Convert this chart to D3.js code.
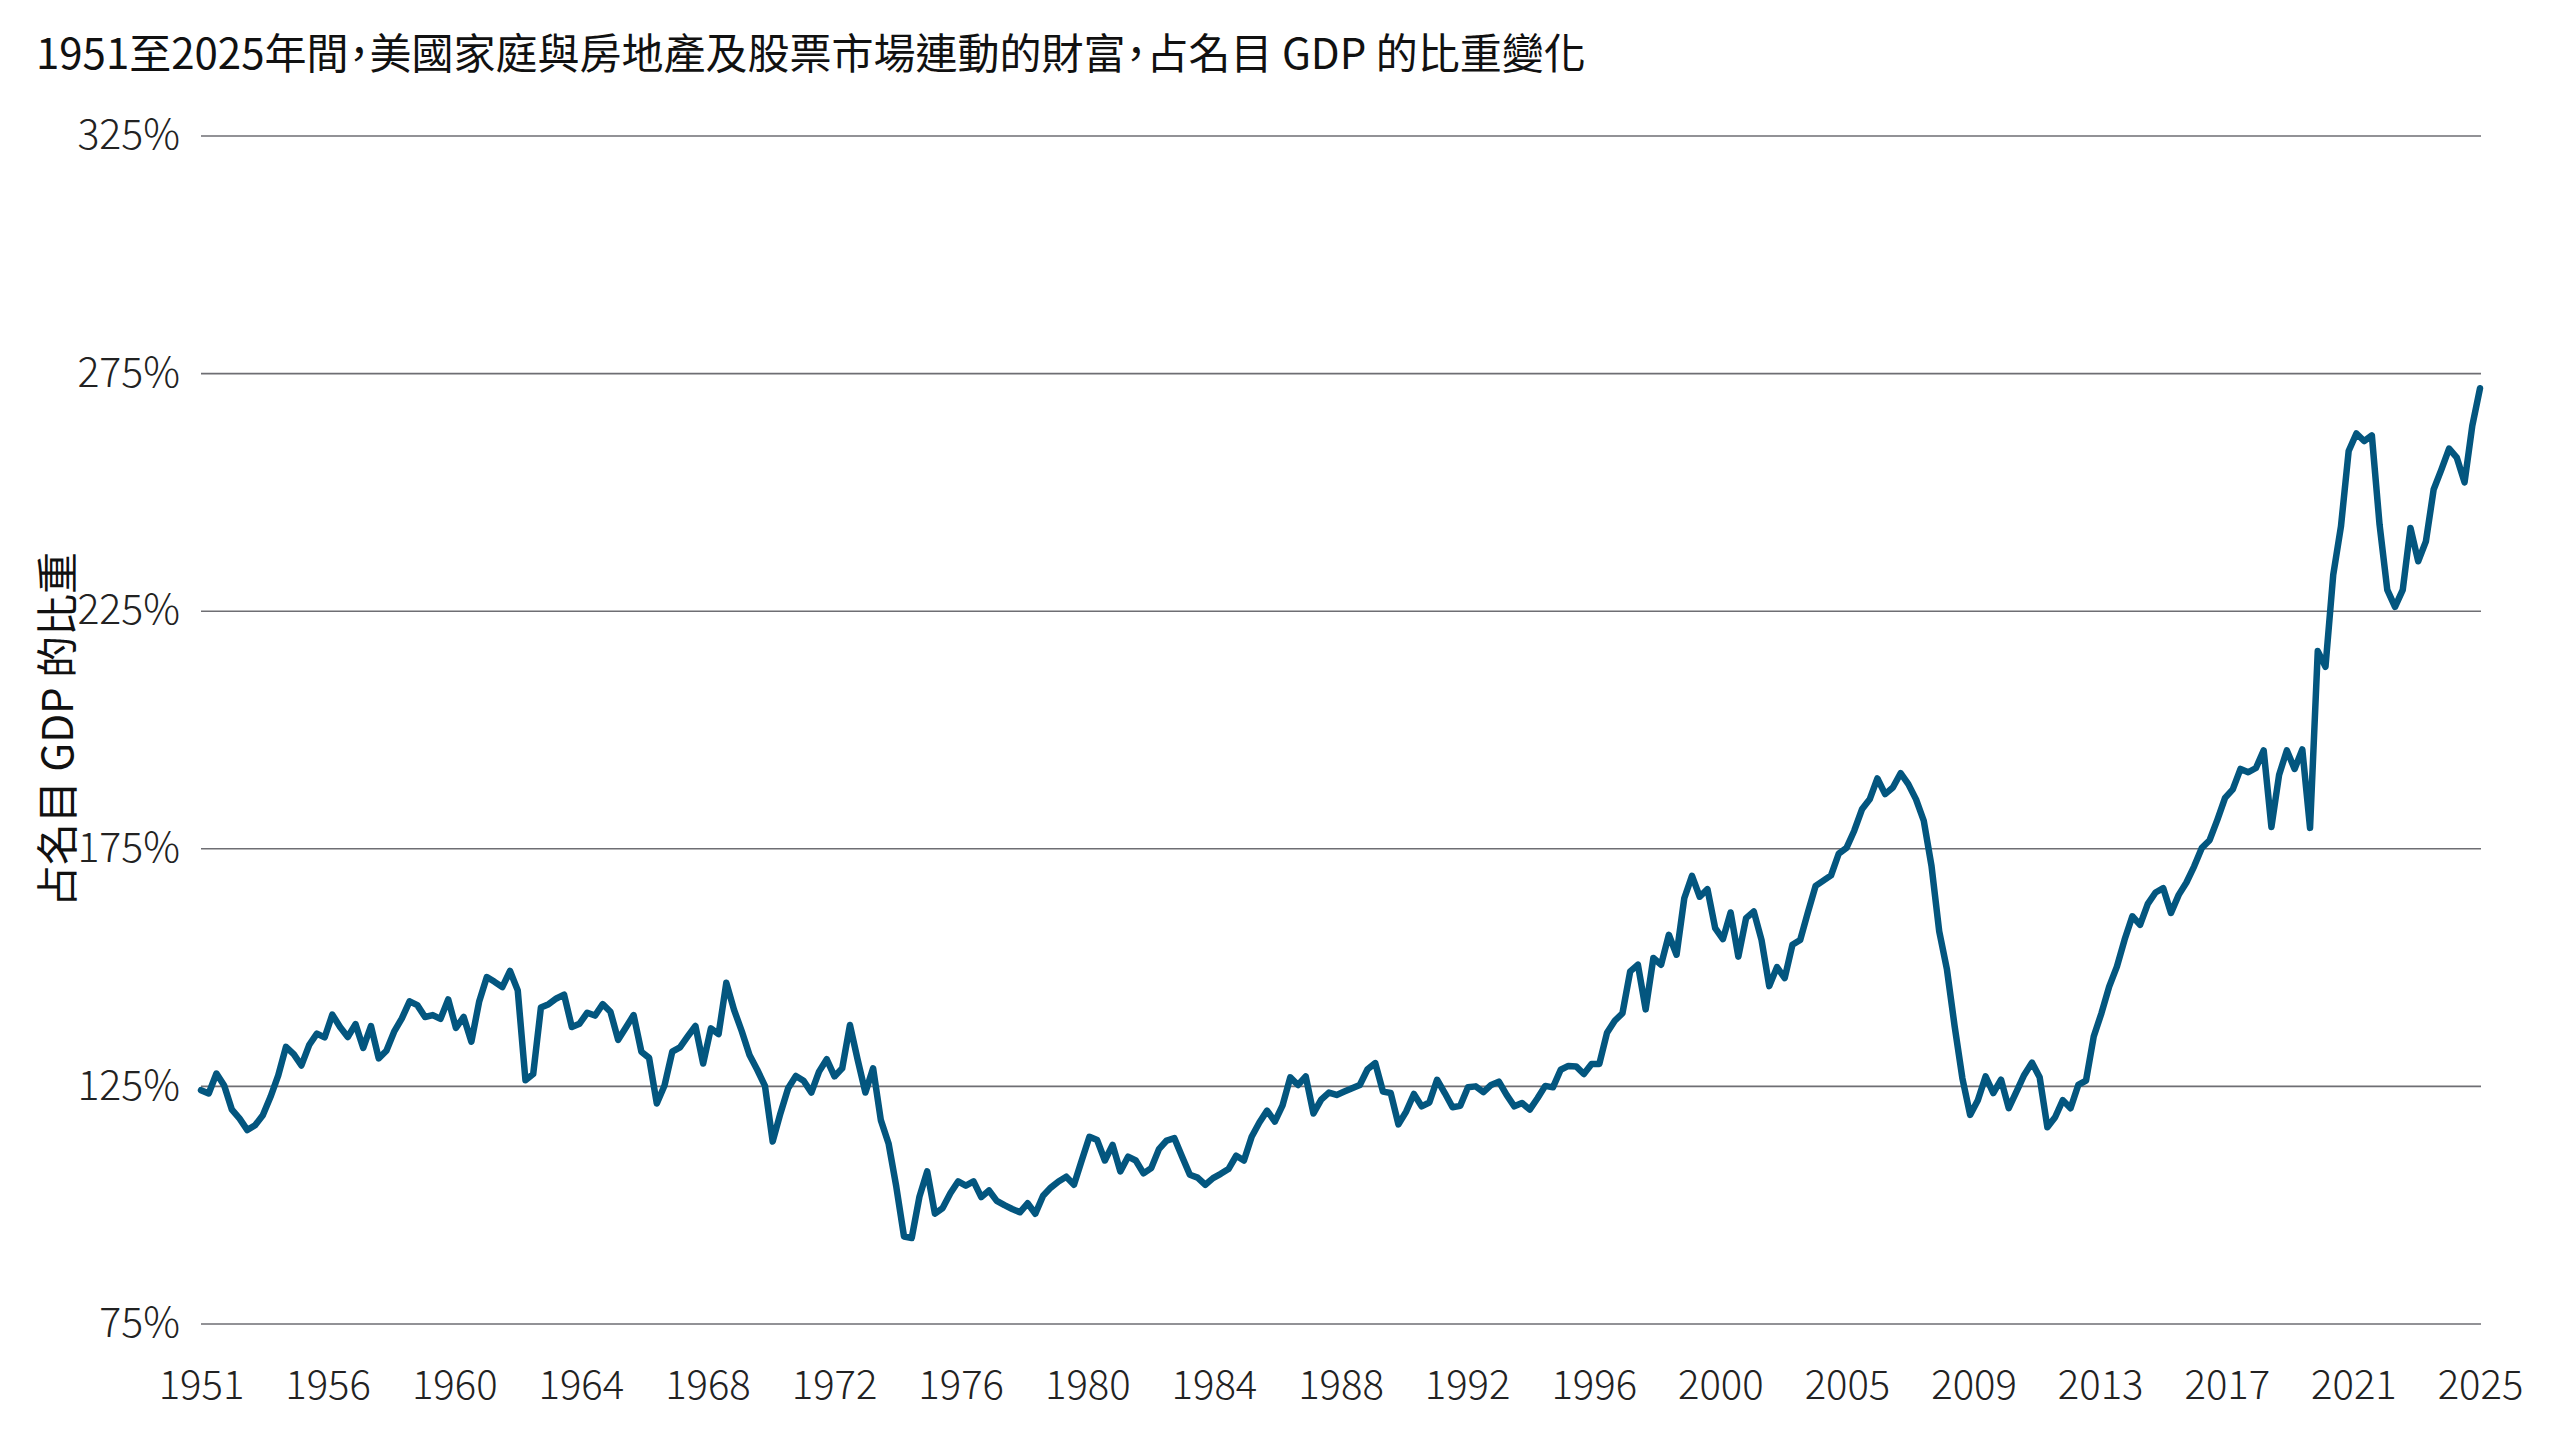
<!DOCTYPE html>
<html>
<head>
<meta charset="utf-8">
<script src="https://cdn.jsdelivr.net/npm/d3@7"></script>
<style>
  html, body { margin: 0; padding: 0; background: #ffffff; }
  svg { display: block; }
  text { font-family: "Noto Sans CJK TC", "Noto Sans", sans-serif; }
</style>
</head>
<body>
<svg id="chart" width="2560" height="1440"></svg>
<script>
// ---------------- DATA ----------------
const titleText = "1951至2025年間，美國家庭與房地產及股票市場連動的財富，占名目 GDP 的比重變化";
const yAxisTitle = "占名目 GDP 的比重";
const startYear = 1951;
// quarterly series: household real-estate & equity linked wealth as % of nominal GDP
const values = [
  124.1,123.4,127.6,125.1,120.0,118.1,115.7,116.7,118.8,122.7,
  127.2,133.2,131.7,129.3,133.6,136.0,135.2,140.0,137.4,135.3,
  138.0,133.0,137.6,130.8,132.4,136.4,139.2,142.8,142.0,139.5,
  139.9,139.1,143.2,137.2,139.5,134.3,142.7,147.9,146.9,145.8,
  149.2,145.1,126.2,127.5,141.5,142.2,143.4,144.2,137.4,138.1,
  140.4,139.8,142.2,140.6,134.7,137.3,139.9,132.2,130.9,121.3,
  125.1,132.2,133.1,135.4,137.6,129.7,137.1,135.9,146.7,141.0,
  136.5,131.5,128.4,125.0,113.3,119.2,124.5,127.1,126.1,123.6,
  128.0,130.6,127.0,128.7,137.8,130.5,123.6,128.7,117.8,112.9,
  103.8,93.3,93.0,101.7,107.0,98.1,99.3,102.4,104.9,104.0,
  104.9,101.6,103.0,100.8,99.9,99.1,98.4,100.3,98.1,101.9,
  103.6,104.9,105.9,104.2,109.3,114.3,113.6,109.3,112.6,107.0,
  110.1,109.3,106.6,107.7,111.7,113.5,114.0,110.1,106.3,105.7,
  104.2,105.6,106.5,107.5,110.3,109.3,114.3,117.3,119.8,117.5,
  120.9,126.8,125.2,127.0,119.2,122.1,123.6,123.1,123.8,124.5,
  125.2,128.5,129.8,123.8,123.5,116.9,119.6,123.3,120.7,121.5,
  126.3,123.5,120.5,120.8,124.7,124.9,123.7,125.2,125.9,123.1,
  120.7,121.4,120.0,122.4,125.0,124.7,128.4,129.2,129.1,127.5,
  129.6,129.6,136.2,138.7,140.3,149.1,150.5,141.1,151.9,150.5,
  156.8,152.6,164.5,169.2,164.8,166.4,158.2,155.9,161.5,152.2,
  160.3,161.7,155.7,146.0,150.0,147.7,154.7,155.7,161.5,167.1,
  168.2,169.3,173.9,175.1,178.7,183.2,185.3,189.7,186.4,187.8,
  190.8,188.5,185.3,180.8,171.3,157.5,149.5,137.5,126.6,118.9,
  122.0,127.0,123.5,126.3,120.3,123.8,127.3,129.9,126.8,116.3,
  118.4,122.0,120.3,125.2,126.1,135.4,140.3,145.9,150.1,155.8,
  160.7,158.9,163.3,165.7,166.6,161.4,165.2,167.8,171.2,175.1,
  176.7,181.0,185.6,187.4,191.7,191.0,191.9,195.6,179.5,190.5,
  195.6,191.7,195.8,179.3,216.5,213.2,232.5,242.7,258.6,262.3,
  260.7,261.9,243.1,229.4,225.8,229.4,242.4,235.4,239.6,250.5,
  254.7,259.1,257.2,252.0,263.9,271.8
];
// quarter categories for each value
const categories = values.map((v, i) => (startYear + Math.floor(i / 4)) + "Q" + (i % 4 + 1));
const xTickLabels = ["1951","1956","1960","1964","1968","1972","1976","1980","1984","1988",
                     "1992","1996","2000","2005","2009","2013","2017","2021","2025"];
const yTickValues = [75, 125, 175, 225, 275, 325];

// ---------------- LAYOUT ----------------
const svg = d3.select("#chart");
const plotL = 201, plotR = 2481, plotT = 135.5, plotB = 1323.5;

const x = d3.scalePoint().domain(categories).range([plotL, plotR - 1]);
const xTicks = d3.scalePoint().domain(xTickLabels).range([plotL, plotR - 1]);
const y = d3.scaleLinear().domain([75, 325]).range([plotB, plotT]);

// Title (half-width punctuation alternates, as in the reference)
svg.append("text")
  .attr("x", 36).attr("y", 69)
  .attr("font-size", 42)
  .attr("font-weight", 400)
  .attr("fill", "#111")
  .style("font-feature-settings", '"halt" 1')
  .text(titleText);

// Y axis with gridlines
const yAxis = svg.append("g")
  .attr("transform", `translate(${plotL},0)`)
  .call(d3.axisLeft(y).tickValues(yTickValues).tickSize(-(plotR - plotL)).tickPadding(21)
        .tickFormat(d => d + "%"));
yAxis.select(".domain").remove();
yAxis.selectAll(".tick line").attr("stroke", "#6e6e73").attr("stroke-width", 1.6);
yAxis.selectAll(".tick text")
  .attr("font-size", 41).attr("font-weight", 300).attr("fill", "#222")
  .style("font-family", '"Noto Sans CJK TC", "Noto Sans", sans-serif');

// X axis
const xAxis = svg.append("g")
  .attr("transform", `translate(0,${plotB})`)
  .call(d3.axisBottom(xTicks).tickSize(0).tickPadding(47));
xAxis.select(".domain").remove();
xAxis.selectAll(".tick text")
  .attr("font-size", 40).attr("font-weight", 300).attr("fill", "#222")
  .style("font-family", '"Noto Sans CJK TC", "Noto Sans", sans-serif');

// Y axis title
svg.append("text")
  .attr("transform", `translate(54,${(plotT + plotB) / 2}) rotate(-90)`)
  .attr("text-anchor", "middle")
  .attr("dominant-baseline", "central")
  .attr("font-size", 42)
  .attr("fill", "#111")
  .text(yAxisTitle);

// Line
const line = d3.line()
  .x((d, i) => x(categories[i]))
  .y(d => y(d));

svg.append("path")
  .datum(values)
  .attr("fill", "none")
  .attr("stroke", "#03567f")
  .attr("stroke-width", 6.5)
  .attr("stroke-linejoin", "round")
  .attr("stroke-linecap", "round")
  .attr("d", line);
</script>
</body>
</html>
